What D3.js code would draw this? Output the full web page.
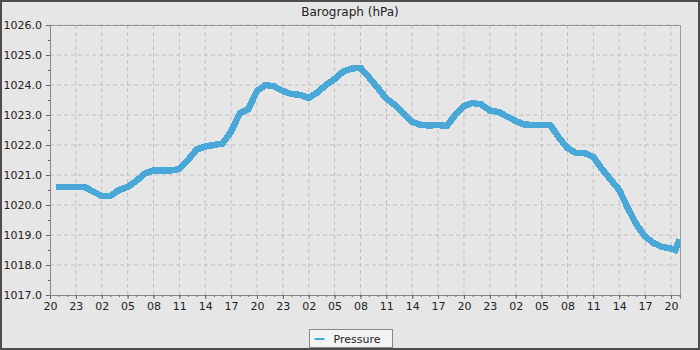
<!DOCTYPE html>
<html>
<head>
<meta charset="utf-8">
<script src="https://cdn.jsdelivr.net/npm/d3@7"></script>
<style>
  body { margin: 0; background: #fff; }
  svg { display: block; font-family: "DejaVu Sans", sans-serif; }
</style>
</head>
<body>
<div id="chart"></div>
<script>
// hours since the first 20:00 tick
const hours = [0.7, 1, 2, 3, 4, 5, 6, 7, 8, 9, 10, 11, 12, 13, 14, 15, 16, 17, 18, 19, 20,
  21, 22, 23, 24, 25, 26, 27, 28, 29, 30, 31, 32, 33, 34, 35, 36, 37, 38, 39, 40,
  41, 42, 43, 44, 45, 46, 47, 48, 49, 50, 51, 52, 53, 54, 55, 56, 57, 58, 59, 60,
  61, 62, 63, 64, 65, 66, 67, 68, 69, 70, 71, 72, 72.5, 73];
const pressure = [1020.6, 1020.6, 1020.6, 1020.6, 1020.6, 1020.45, 1020.3, 1020.3, 1020.5, 1020.6, 1020.8,
  1021.05, 1021.15, 1021.15, 1021.15, 1021.2, 1021.5, 1021.85, 1021.95, 1022.0, 1022.05,
  1022.45, 1023.05, 1023.2, 1023.8, 1024.0, 1023.95, 1023.8, 1023.7, 1023.67, 1023.57,
  1023.75, 1024.0, 1024.2, 1024.45, 1024.55, 1024.57, 1024.25, 1023.9, 1023.55, 1023.33,
  1023.05, 1022.77, 1022.67, 1022.65, 1022.67, 1022.63, 1023.0, 1023.3, 1023.4, 1023.35,
  1023.15, 1023.1, 1022.95, 1022.8, 1022.68, 1022.67, 1022.67, 1022.67, 1022.25, 1021.9,
  1021.73, 1021.73, 1021.6, 1021.2, 1020.85, 1020.5, 1019.9, 1019.35, 1018.95, 1018.73,
  1018.6, 1018.55, 1018.5, 1018.85];
const xTickLabels = ["20", "23", "02", "05", "08", "11", "14", "17", "20", "23", "02", "05",
  "08", "11", "14", "17", "20", "23", "02", "05", "08", "11", "14", "17", "20"];
const yTicks = [1017, 1018, 1019, 1020, 1021, 1022, 1023, 1024, 1025, 1026];

const width = 700, height = 350;
const margin = {top: 25, right: 20, bottom: 55, left: 50};

const svg = d3.select("#chart").append("svg")
  .attr("width", width)
  .attr("height", height);

// background + outer border
svg.append("rect")
  .attr("x", 1).attr("y", 1)
  .attr("width", width - 2).attr("height", height - 2)
  .attr("fill", "#e6e6e6")
  .attr("stroke", "#4d4d4d")
  .attr("stroke-width", 2);

const x = d3.scaleLinear()
  .domain([0, 73.05])
  .range([margin.left, width - margin.right]);
const y = d3.scaleLinear()
  .domain([1017, 1026])
  .range([height - margin.bottom, margin.top]);

const majorX = d3.range(0, 73, 3);

// grid
svg.append("g")
  .selectAll("line")
  .data(majorX.slice(1))
  .join("line")
  .attr("x1", d => x(d)).attr("x2", d => x(d))
  .attr("y1", margin.top).attr("y2", height - margin.bottom)
  .attr("stroke", "#c0c0c0")
  .attr("stroke-dasharray", "4,3");
svg.append("g")
  .selectAll("line")
  .data(yTicks.slice(1))
  .join("line")
  .attr("x1", margin.left).attr("x2", width - margin.right)
  .attr("y1", d => y(d)).attr("y2", d => y(d))
  .attr("stroke", "#c0c0c0")
  .attr("stroke-dasharray", "4,3");

// plot outline
svg.append("rect")
  .attr("x", margin.left + 0.5).attr("y", margin.top + 0.5)
  .attr("width", width - margin.left - margin.right)
  .attr("height", height - margin.top - margin.bottom)
  .attr("fill", "none")
  .attr("stroke", "#999");

// line
svg.append("clipPath").attr("id", "clip")
  .append("rect")
  .attr("x", margin.left).attr("y", margin.top)
  .attr("width", width - margin.left - margin.right)
  .attr("height", height - margin.top - margin.bottom);

const line = d3.line()
  .x((d, i) => x(hours[i]))
  .y(d => y(d));

svg.append("path")
  .datum(pressure)
  .attr("clip-path", "url(#clip)")
  .attr("fill", "none")
  .attr("stroke", "#4aa8d8")
  .attr("stroke-width", 6.5)
  .attr("stroke-linejoin", "miter")
  .attr("shape-rendering", "crispEdges")
  .attr("d", line);

// axes
svg.append("g")
  .attr("transform", `translate(0,${height - margin.bottom})`)
  .call(d3.axisBottom(x)
    .tickValues(majorX)
    .tickFormat((d, i) => xTickLabels[i])
    .tickSize(4)
    .tickPadding(3));
svg.append("g")
  .attr("transform", `translate(0,${height - margin.bottom})`)
  .call(d3.axisBottom(x)
    .tickValues(d3.range(0, 74, 1))
    .tickFormat("")
    .tickSize(2))
  .call(g => g.select(".domain").remove());

svg.append("g")
  .attr("transform", `translate(${margin.left},0)`)
  .call(d3.axisLeft(y)
    .tickValues(yTicks)
    .tickFormat(d3.format(".1f"))
    .tickSize(4)
    .tickPadding(4));
svg.append("g")
  .attr("transform", `translate(${margin.left},0)`)
  .call(d3.axisLeft(y)
    .tickValues(d3.range(1017.5, 1026, 1))
    .tickFormat("")
    .tickSize(2))
  .call(g => g.select(".domain").remove());

svg.selectAll(".tick text")
  .attr("font-family", "DejaVu Sans, sans-serif")
  .attr("font-size", "11px")
  .attr("fill", "#222");
svg.selectAll(".tick line").attr("stroke", "#666");
svg.selectAll(".domain").attr("stroke", "#888");

// title
svg.append("text")
  .attr("x", width / 2)
  .attr("y", 16)
  .attr("text-anchor", "middle")
  .attr("font-size", "12px")
  .attr("fill", "#222")
  .text("Barograph (hPa)");

// legend
const legend = svg.append("g").attr("transform", "translate(309.5,329.5)");
legend.append("rect")
  .attr("width", 83).attr("height", 18)
  .attr("fill", "#f4f4f4")
  .attr("stroke", "#888");
legend.append("line")
  .attr("x1", 5).attr("x2", 15)
  .attr("y1", 9.5).attr("y2", 9.5)
  .attr("stroke", "#4aa8d8")
  .attr("stroke-width", 2);
legend.append("text")
  .attr("x", 24).attr("y", 13)
  .attr("font-size", "11px")
  .attr("fill", "#222")
  .text("Pressure");
</script>
</body>
</html>
